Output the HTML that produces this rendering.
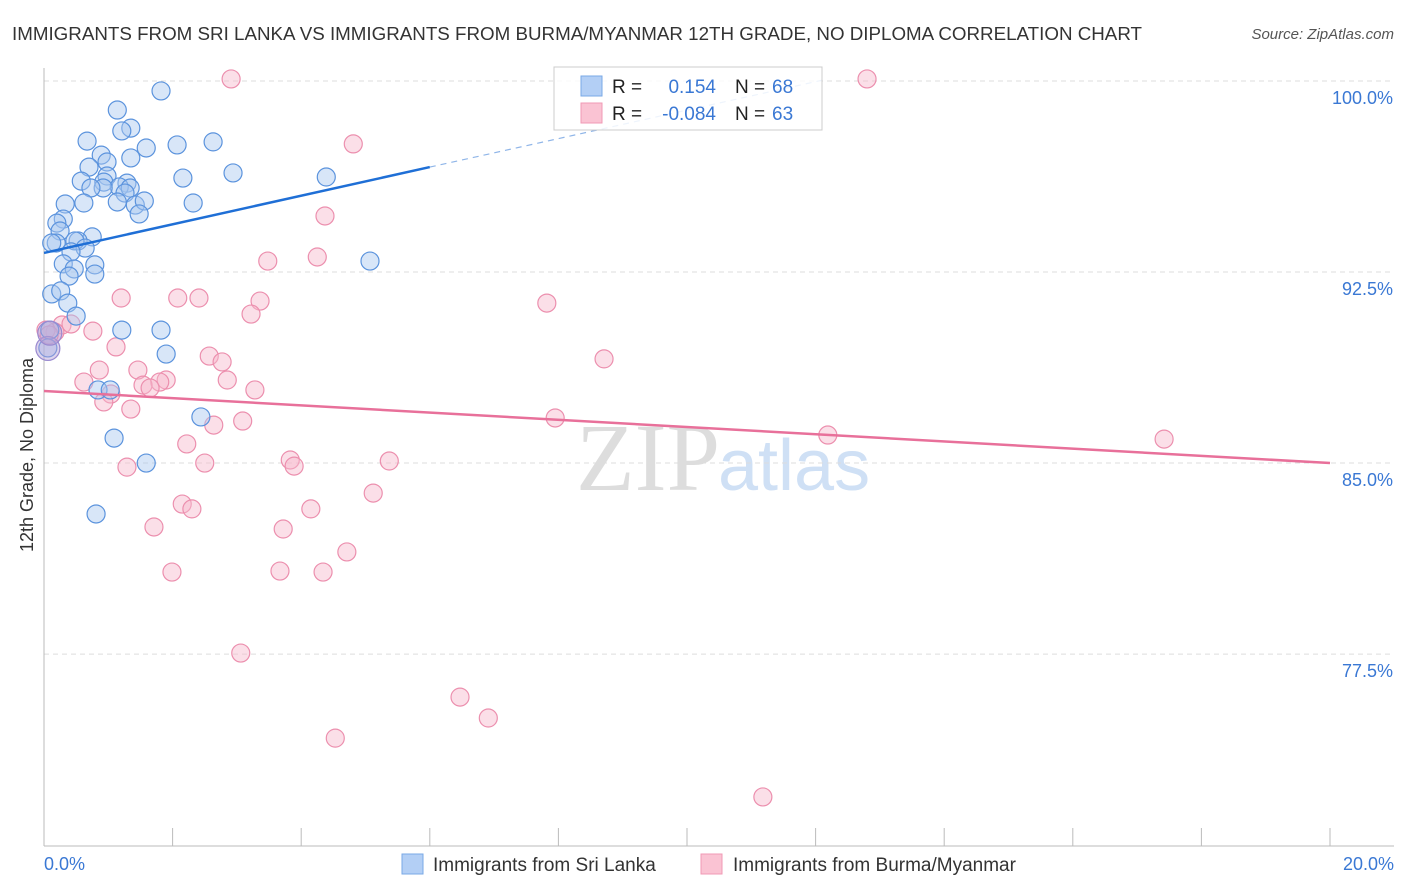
<!DOCTYPE html>
<html><head><meta charset="utf-8"><style>
body{margin:0;background:#fff;font-family:"Liberation Sans",sans-serif;}
#wrap{position:relative;width:1406px;height:892px;overflow:hidden;}
</style></head><body>
<div id="wrap">
<svg id="svg" width="1406" height="892" xmlns="http://www.w3.org/2000/svg">
<text x="12" y="40" font-size="18" fill="#333" textLength="1130" lengthAdjust="spacingAndGlyphs">IMMIGRANTS FROM SRI LANKA VS IMMIGRANTS FROM BURMA/MYANMAR 12TH GRADE, NO DIPLOMA CORRELATION CHART</text>
<text x="1394" y="39" font-size="15" fill="#555" font-style="italic" text-anchor="end">Source: ZipAtlas.com</text>
<text x="33" y="455" font-size="18" fill="#333" text-anchor="middle" transform="rotate(-90 33 455)">12th Grade, No Diploma</text>
<text x="720" y="490" font-size="96" fill="#ddd" font-family="Liberation Serif,serif" text-anchor="end">ZIP</text>
<text x="718" y="490" font-size="72" fill="#cfe0f5">atlas</text>
<g id="grid"></g><g id="axes"></g><g id="pts"></g><g id="trend"></g>
<g>
<rect x="554" y="67" width="268" height="63" fill="#fff" fill-opacity="0.85" stroke="#ccc"/>
<rect x="581" y="76" width="21" height="20" fill="#b3cff5" stroke="#7aa8e6"/>
<rect x="581" y="103" width="21" height="20" fill="#fac3d3" stroke="#f09ab5"/>
<text x="612" y="93" font-size="19" fill="#222">R =</text>
<text x="716" y="93" font-size="19" fill="#3a78d4" text-anchor="end">0.154</text>
<text x="735" y="93" font-size="19" fill="#222">N =</text>
<text x="772" y="93" font-size="19" fill="#3a78d4">68</text>
<text x="612" y="120" font-size="19" fill="#222">R =</text>
<text x="716" y="120" font-size="19" fill="#3a78d4" text-anchor="end">-0.084</text>
<text x="735" y="120" font-size="19" fill="#222">N =</text>
<text x="772" y="120" font-size="19" fill="#3a78d4">63</text>
</g>
<g>
<rect x="402" y="854" width="21" height="20" fill="#b3cff5" stroke="#7aa8e6"/>
<text x="433" y="871" font-size="19" fill="#333">Immigrants from Sri Lanka</text>
<rect x="701" y="854" width="21" height="20" fill="#fac3d3" stroke="#f09ab5"/>
<text x="733" y="871" font-size="19" fill="#333">Immigrants from Burma/Myanmar</text>
</g>
</svg>
</div>
<script>
const yTicks=[100,92.5,85,77.5];
const yTickLabels=["100.0%","92.5%","85.0%","77.5%"];
const xTickValues=[0,2,4,6,8,10,12,14,16,18,20];
const xEndLabels=["0.0%","20.0%"];
const blueX=[1.82,1.14,1.35,1.21,0.67,1.59,2.07,2.63,0.89,1.35,0.70,0.98,2.94,4.39,2.16,0.98,0.58,0.93,1.29,1.17,0.92,0.73,1.34,1.26,0.62,0.33,1.42,1.56,2.32,1.14,1.48,0.30,0.20,0.25,0.75,0.19,0.53,0.12,0.48,0.64,0.42,0.30,0.79,0.47,0.79,5.07,0.39,0.12,0.26,0.37,0.50,0.09,1.21,1.82,0.06,1.90,0.84,1.03,2.44,1.09,1.59,0.81];
const blueY=[99.61,98.86,98.15,98.04,97.64,97.37,97.49,97.61,97.09,96.98,96.62,96.82,96.39,96.23,96.19,96.27,96.07,96.03,95.99,95.84,95.80,95.80,95.80,95.60,95.21,95.17,95.13,95.29,95.21,95.25,94.78,94.58,94.42,94.11,93.88,93.64,93.72,93.64,93.72,93.44,93.29,92.82,92.78,92.62,92.42,92.93,92.34,91.64,91.76,91.28,90.77,90.22,90.22,90.22,89.52,89.28,87.87,87.87,86.81,85.98,85.00,83.00];
const pinkX=[2.91,12.80,4.81,4.37,3.48,4.25,1.20,2.08,2.41,3.36,7.82,3.22,0.28,0.42,0.76,0.17,0.03,0.08,1.12,2.57,2.77,8.71,0.86,1.46,0.62,2.85,1.90,1.80,1.54,1.65,3.28,1.04,0.93,1.35,7.95,3.09,2.64,12.19,17.42,2.22,5.37,3.83,2.50,3.89,1.29,5.12,2.15,2.30,4.15,1.71,3.72,4.71,1.99,3.67,4.34,3.06,6.47,6.91,4.53,11.18];
const pinkY=[100.08,100.08,97.53,94.70,92.93,93.09,91.48,91.48,91.48,91.36,91.28,90.85,90.42,90.46,90.18,90.14,90.22,90.03,89.56,89.20,88.97,89.09,88.65,88.65,88.18,88.26,88.26,88.18,88.06,87.95,87.87,87.71,87.40,87.12,86.77,86.65,86.49,86.10,85.94,85.75,85.08,85.12,85.00,84.88,84.84,83.82,83.39,83.20,83.20,82.49,82.41,81.51,80.72,80.76,80.72,77.54,75.81,74.99,74.20,71.89];
const bigX=[0.06,0.09];
const bigY=[89.5,90.1];
const blueTrendX=[0,6.0,12.1];
const blueTrendY=[93.25,96.62,100.03];
const pinkTrendX=[0,20];
const pinkTrendY=[87.83,85.0];

const NS="http://www.w3.org/2000/svg";
const X=v=>44+v*64.3;
const Y=v=>81+(100-v)*25.47;
function mk(tag,attrs,parent){const e=document.createElementNS(NS,tag);for(const k in attrs)e.setAttribute(k,attrs[k]);parent.appendChild(e);return e;}
const grid=document.getElementById('grid'),axes=document.getElementById('axes'),pts=document.getElementById('pts'),trend=document.getElementById('trend');
yTicks.forEach((t,i)=>{
  const l=mk('line',{x1:44,x2:1394,y1:Y(t),y2:Y(t),stroke:'#ddd','stroke-dasharray':'5,4'},grid);
  
  
  const tx=mk('text',{x:1393,y:Y(t)+23,'font-size':18,fill:'#3a78d4','text-anchor':'end'},axes);
  tx.textContent=yTickLabels[i];
  
  
});
const ya=mk('line',{x1:44,x2:44,y1:68,y2:846,stroke:'#bbb'},axes);


const xa=mk('line',{x1:44,x2:1394,y1:846,y2:846,stroke:'#bbb'},axes);


xTickValues.forEach(t=>{
  const l=mk('line',{x1:X(t),x2:X(t),y1:828,y2:846,stroke:'#bbb'},axes);
  
  
});
const xl0=mk('text',{x:44,y:870,'font-size':18,fill:'#3a78d4'},axes);xl0.textContent=xEndLabels[0];


const xl1=mk('text',{x:1394,y:870,'font-size':18,fill:'#3a78d4','text-anchor':'end'},axes);xl1.textContent=xEndLabels[1];


function dots(xs,ys,fill,stroke,name,r){
  xs.forEach((x,i)=>{
    const c=mk('circle',{cx:X(x),cy:Y(ys[i]),r:r,fill:fill,'fill-opacity':0.45,stroke:stroke,'stroke-width':1.2},pts);
    
    
  });
}
dots(pinkX,pinkY,'#f7b9cb','#ec8fae','point-burma',9);
dots(blueX,blueY,'#a9c8f0','#5b93dd','point-sri-lanka',9);
dots(bigX,bigY,'#b4a0d8','#9a8ad0','point-large',12);
const bt=mk('line',{x1:X(blueTrendX[0]),y1:Y(blueTrendY[0]),x2:X(blueTrendX[1]),y2:Y(blueTrendY[1]),stroke:'#1f6fd6','stroke-width':2.5},trend);


const bd=mk('line',{x1:X(blueTrendX[1]),y1:Y(blueTrendY[1]),x2:X(blueTrendX[2]),y2:Y(blueTrendY[2]),stroke:'#8fb5e8','stroke-width':1.2,'stroke-dasharray':'6,5'},trend);


const pt=mk('line',{x1:X(pinkTrendX[0]),y1:Y(pinkTrendY[0]),x2:X(pinkTrendX[1]),y2:Y(pinkTrendY[1]),stroke:'#e8709a','stroke-width':2.5},trend);


</script>
</body></html>
